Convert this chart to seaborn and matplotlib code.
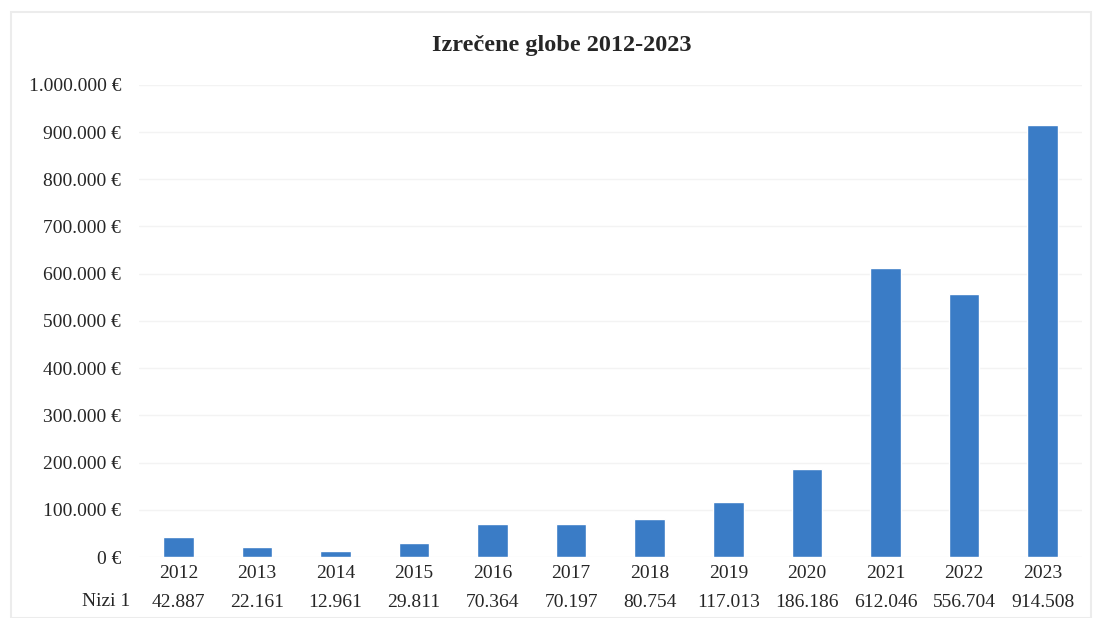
import numpy as np
import matplotlib
matplotlib.use("Agg")
import matplotlib.pyplot as plt
import matplotlib.ticker as mticker
import pandas as pd
import seaborn as sns

# ---------------- data ----------------
years = ["2012", "2013", "2014", "2015", "2016", "2017",
         "2018", "2019", "2020", "2021", "2022", "2023"]
fines = [42887, 22161, 12961, 29811, 70364, 70197,
         80754, 117013, 186186, 612046, 556704, 914508]
series_name = "Nizi 1"
title = "Izrečene globe 2012-2023"

# ---------------- style ----------------
sns.set_style("white")
plt.rcParams["font.family"] = ["Liberation Serif", "DejaVu Serif"]

def fmt_eur(v, pos=None):
    return "{:,.0f}".format(v).replace(",", ".") + " €"

def fmt_num(v):
    return "{:,.0f}".format(v).replace(",", ".")

df = pd.DataFrame({"year": years, "fine": fines})

fig = plt.figure(figsize=(10.95, 6.18), dpi=100)
ax = fig.add_axes([0.127, 0.0987, 0.861, 0.764])

sns.barplot(data=df, x="year", y="fine", color="#3A7CC6",
            saturation=1, width=0.39, ax=ax)

ax.set_ylim(0, 1000000)
ax.yaxis.set_major_locator(mticker.MultipleLocator(100000))
ax.yaxis.set_major_formatter(mticker.FuncFormatter(fmt_eur))
ax.grid(axis="y", color="#f3f3f3", linewidth=1)
ax.set_axisbelow(True)
sns.despine(ax=ax, left=True, bottom=True)
ax.set_xlabel("")
ax.set_ylabel("")
ax.tick_params(axis="y", length=0, pad=13, labelsize=14)
ax.tick_params(axis="x", length=0, pad=6, labelsize=14)

# data table row below the year labels
for i, v in enumerate(fines):
    ax.text(i, -0.097, fmt_num(v), transform=ax.get_xaxis_transform(),
            ha="center", va="center", fontsize=14)
fig.text(0.097, (618 - 601) / 618, series_name, ha="center",
         va="center", fontsize=14)

fig.text(0.513, (618 - 45) / 618, title, ha="center", va="center",
         fontsize=17.5, fontweight="bold")

# light chart border
fig.patches.append(plt.Rectangle((0.010, 0.0), 0.986, 0.98, transform=fig.transFigure,
                                 fill=False, edgecolor="#ececec", linewidth=1.5))

fig.savefig("out.png", dpi=100, facecolor="white")
